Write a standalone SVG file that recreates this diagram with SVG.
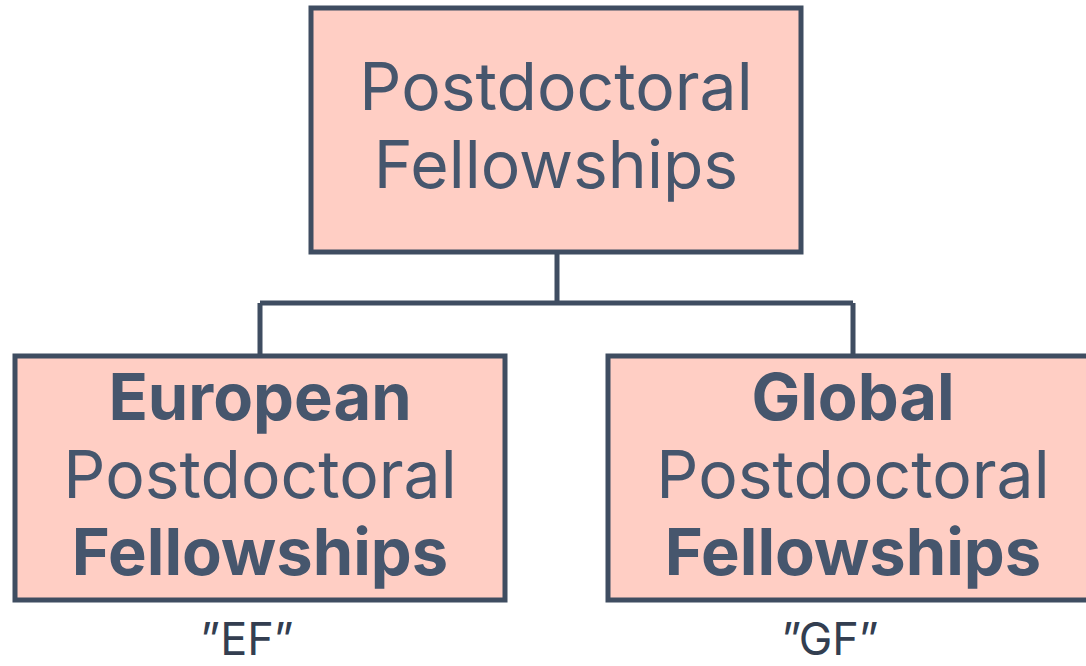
<svg xmlns="http://www.w3.org/2000/svg" width="1086" height="666" viewBox="0 0 1086 666">
<style>
.box{fill:#ffcec4;stroke:#3f4d61;stroke-width:5}
.t{font-family:Inter,"DejaVu Sans",sans-serif;font-size:66px;fill:#46566d;text-anchor:middle}
.b{font-weight:700;font-size:65px}
.q{font-family:Inter,"DejaVu Sans",sans-serif;font-size:45px;fill:#333e50;text-anchor:middle}
.c{fill:none;stroke:#3f4d61;stroke-width:5}
</style>
<rect width="1086" height="666" fill="#ffffff"/>
<g id="connectors">
<path class="c" d="M557 252V303M260 303H853M260 303V356M853 303V356"/>
</g>
<g id="root">
<rect class="box" x="311" y="8" width="490" height="244"/>
<text class="t" x="556" y="110">Postdoctoral</text>
<text class="t" x="556" y="188">Fellowships</text>
</g>
<g id="ef">
<rect class="box" x="15" y="356" width="490" height="244"/>
<text class="t b" x="260" y="420">European</text>
<text class="t" x="260" y="498">Postdoctoral</text>
<text class="t b" x="260" y="575">Fellowships</text>
<text class="q" x="247" y="655">”EF”</text>
</g>
<g id="gf">
<rect class="box" x="608" y="356" width="490" height="244"/>
<text class="t b" x="853" y="420">Global</text>
<text class="t" x="853" y="498">Postdoctoral</text>
<text class="t b" x="853" y="575">Fellowships</text>
<text class="q" x="830" y="655">”GF”</text>
</g>
</svg>
